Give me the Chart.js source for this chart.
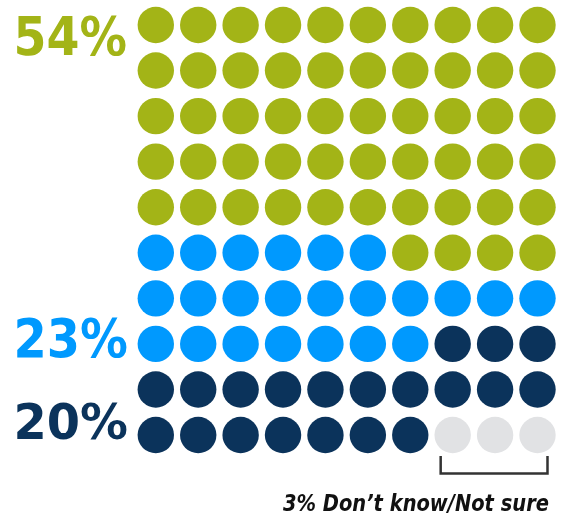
<!DOCTYPE html>
<html>
<head>
<meta charset="utf-8">
<script src="https://cdn.jsdelivr.net/npm/chart.js@4/dist/chart.umd.min.js"></script>
<style>
  html, body { margin: 0; padding: 0; background: #fff; }
  #wrap { width: 562px; height: 517px; position: relative; }
</style>
</head>
<body>
<div id="wrap"><canvas id="waffle" width="562" height="517"></canvas></div>
<script>
// share of 100 dots for each answer, top of the grid first
const shares = [54, 23, 20, 3]
const shareLabels = ['54%', '23%', '20%', '3% Don\u2019t know/Not sure']
const colors = ['#a3b417', '#0099fe', '#0b335b', '#e1e2e4']
const textColors = ['#a3b417', '#0099fe', '#0b335b', '#111111']

const COLS = 10
const ROWS = 10
// the last partial row of a group sits on the right instead of the left
const tailOnRight = [true, false, false, false]

function buildDots() {
    const groups = shares.map(() => [])
    const starts = []
    let acc = 0
    shares.forEach(s => { starts.push(acc); acc += s })
    for (let r = 0; r < ROWS; r++) {
        const lo = r * COLS, hi = lo + COLS
        let pieces = []
        shares.forEach((s, i) => {
            const n = Math.max(0, Math.min(hi, starts[i] + s) - Math.max(lo, starts[i]))
            if (n > 0) pieces.push({i, n})
        })
        if (pieces.length > 1) {
            pieces.sort((a, b) => (tailOnRight[a.i] ? 1 : 0) - (tailOnRight[b.i] ? 1 : 0))
        }
        let c = 0
        pieces.forEach(p => {
            for (let k = 0; k < p.n; k++) groups[p.i].push({x: c++, y: r})
        })
    }
    return groups
}

const dots = buildDots()

// draw text so its ink fills the given box
function fitText(ctx, text, box, font, color) {
    ctx.save()
    ctx.font = font
    ctx.fillStyle = color
    ctx.textAlign = 'left'
    ctx.textBaseline = 'alphabetic'
    const m = ctx.measureText(text)
    const w = m.actualBoundingBoxLeft + m.actualBoundingBoxRight
    const h = m.actualBoundingBoxAscent
    const sx = (box.right - box.left) / w
    const sy = (box.bottom - box.top) / h
    ctx.translate(box.left, box.bottom)
    ctx.scale(sx, sy)
    ctx.fillText(text, m.actualBoundingBoxLeft, 0)
    ctx.restore()
}

const labelsPlugin = {
    id: 'waffleLabels',
    afterDraw(chart) {
        const ctx = chart.ctx
        const xs = chart.scales.x
        const big = 'bold 54px "DejaVu Sans"'
        fitText(ctx, shareLabels[0], {left: 17, right: 126, top: 15, bottom: 55}, big, textColors[0])
        fitText(ctx, shareLabels[1], {left: 17, right: 127, top: 318, bottom: 357}, big, textColors[1])
        fitText(ctx, shareLabels[2], {left: 17, right: 127, top: 402, bottom: 439}, big, textColors[2])

        // bracket under the grey dots
        const left = xs.getPixelForValue(COLS - shares[3]) - 12
        const right = xs.getPixelForValue(COLS - 1) + 10
        ctx.save()
        ctx.strokeStyle = '#333333'
        ctx.lineWidth = 2.5
        ctx.beginPath()
        ctx.moveTo(left, 456)
        ctx.lineTo(left, 473.5)
        ctx.lineTo(right, 473.5)
        ctx.lineTo(right, 456)
        ctx.stroke()
        ctx.restore()

        fitText(ctx, shareLabels[3], {left: 283, right: 549, top: 494, bottom: 511}, 'italic bold 22px "DejaVu Sans"', textColors[3])
    }
}

const ctx = document.getElementById('waffle')
new Chart(ctx, {
    type: 'scatter',
    data: {
        datasets: dots.map((pts, i) => ({
            label: shareLabels[i],
            data: pts,
            backgroundColor: colors[i],
            borderWidth: 0,
            pointRadius: 18.2,
            pointHoverRadius: 18.2
        }))
    },
    options: {
        responsive: false,
        animation: false,
        devicePixelRatio: 1,
        layout: {
            autoPadding: false,
            padding: {left: 134.6, right: 3.3, top: 2.2, bottom: 59.2}
        },
        scales: {
            x: {type: 'linear', min: -0.5, max: 9.5, display: false},
            y: {type: 'linear', min: -0.5, max: 9.5, reverse: true, display: false}
        },
        plugins: {
            legend: {display: false},
            tooltip: {enabled: false}
        }
    },
    plugins: [labelsPlugin]
})
</script>
</body>
</html>
